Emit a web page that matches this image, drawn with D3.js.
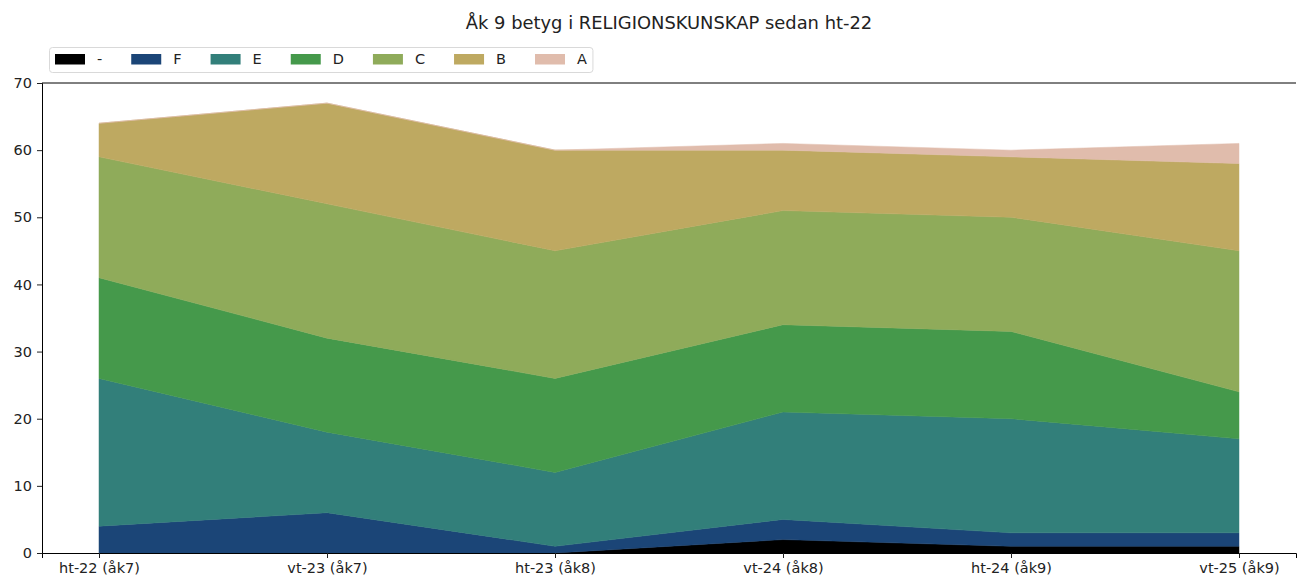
<!DOCTYPE html>
<html>
<head>
<meta charset="utf-8">
<script src="https://cdn.jsdelivr.net/npm/d3@7"></script>
<style>
  html, body { margin: 0; padding: 0; background: #fff; }
  svg { display: block; font-family: "DejaVu Sans", sans-serif; }
</style>
</head>
<body>
<svg id="chart" width="1309" height="580"></svg>
<script>
// Terms (x axis)
const terms = ["ht-22 (åk7)", "vt-23 (åk7)", "ht-23 (åk8)", "vt-24 (åk8)", "ht-24 (åk9)", "vt-25 (åk9)"];

// Grade counts per term
const gradeDash = [0, 0, 0, 2, 1, 1];
const gradeF    = [4, 6, 1, 3, 2, 2];
const gradeE    = [22, 12, 11, 16, 17, 14];
const gradeD    = [15, 14, 14, 13, 13, 7];
const gradeC    = [18, 20, 19, 17, 17, 21];
const gradeB    = [5, 15, 15, 9, 9, 13];
const gradeA    = [0, 0, 0, 1, 1, 3];

const grades = ["-", "F", "E", "D", "C", "B", "A"];
const gradeSeries = [gradeDash, gradeF, gradeE, gradeD, gradeC, gradeB, gradeA];
const gradeColors = ["#000000", "#1b4577", "#327f7a", "#45994b", "#8fab5a", "#bea961", "#e0bcac"];

const yTicks = [0, 10, 20, 30, 40, 50, 60, 70];
const titleText = "Åk 9 betyg i RELIGIONSKUNSKAP sedan ht-22";

const svg = d3.select("#chart");
const margin = { left: 42, right: 1296, top: 83, bottom: 553 };
const tickFont = 14.5;

const rows = terms.map((t, i) => {
  const r = { term: t };
  grades.forEach((g, k) => { r[g] = gradeSeries[k][i]; });
  return r;
});

const x = d3.scaleLinear().domain([-0.25, terms.length - 1 + 0.25]).range([margin.left, margin.right]);
const y = d3.scaleLinear().domain([0, 70]).range([margin.bottom, margin.top]);

const stack = d3.stack().keys(grades);
const layers = stack(rows);

const area = d3.area()
  .x((d, i) => x(i))
  .y0(d => y(d[0]))
  .y1(d => y(d[1]));

svg.append("g").selectAll("path")
  .data(layers)
  .join("path")
  .attr("d", area)
  .attr("fill", (d, i) => gradeColors[i])
  .attr("stroke", (d, i) => gradeColors[i])
  .attr("stroke-width", 0.5);

// Axes
const xAxis = d3.axisBottom(x)
  .tickValues(d3.range(terms.length))
  .tickFormat(i => terms[i])
  .tickSize(5)
  .tickPadding(5);
const gx = svg.append("g").attr("transform", `translate(0,${margin.bottom})`).call(xAxis);
gx.select(".domain").attr("stroke", "#000").attr("stroke-width", 1);

const yAxis = d3.axisLeft(y).tickValues(yTicks).tickSize(5).tickPadding(5);
const gy = svg.append("g").attr("transform", `translate(${margin.left},0)`).call(yAxis);
gy.select(".domain").attr("stroke", "#000").attr("stroke-width", 1);

[gx, gy].forEach(g => {
  g.selectAll("text").attr("font-size", tickFont).attr("fill", "#222").attr("font-family", "DejaVu Sans, sans-serif");
  g.selectAll(".tick line").attr("stroke", "#222");
});

// Top spine
svg.append("line")
  .attr("x1", margin.left).attr("x2", margin.right)
  .attr("y1", margin.top).attr("y2", margin.top)
  .attr("stroke", "#000").attr("stroke-width", 1);

// Title
svg.append("text")
  .attr("x", 669).attr("y", 29)
  .attr("text-anchor", "middle")
  .attr("font-size", 17.9)
  .attr("fill", "#222")
  .text(titleText);

// Legend
const legend = svg.append("g");
const legendBox = legend.append("rect")
  .attr("x", 49.5).attr("y", 47.5).attr("height", 25).attr("rx", 3)
  .attr("fill", "#fff").attr("stroke", "#d9d9d9").attr("stroke-width", 1);
let lx = 55;
grades.forEach((g, i) => {
  legend.append("rect")
    .attr("x", lx).attr("y", 54).attr("width", 30).attr("height", 10.5)
    .attr("fill", gradeColors[i]);
  const t = legend.append("text")
    .attr("x", lx + 42).attr("y", 64)
    .attr("font-size", tickFont).attr("fill", "#222")
    .text(g);
  const w = t.node().getComputedTextLength();
  lx = lx + 42 + w + (i < grades.length - 1 ? 29 : 0);
});
legendBox.attr("width", lx - 49.5 + 6);
</script>
</body>
</html>
